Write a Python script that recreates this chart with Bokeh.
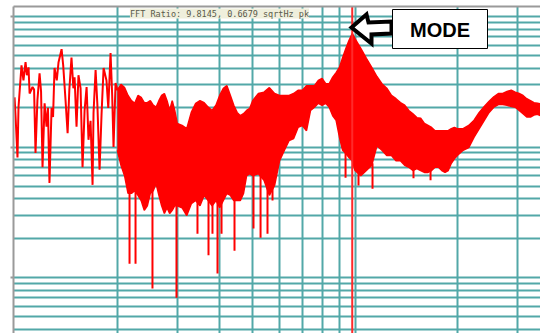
import numpy as np
from bokeh.plotting import figure
from bokeh.models import FixedTicker, Label, Range1d, BoxAnnotation
from bokeh.embed import file_html
from bokeh.resources import INLINE

# ---------------- data (frequency in Hz, level in dB re 1 sqrtHz pk) ----------------
low_freq = [0.997, 1.004, 1.017, 1.024, 1.045, 1.059, 1.074, 1.084, 1.096, 1.104,
            1.126, 1.138, 1.149, 1.164, 1.181, 1.193, 1.205, 1.222, 1.238, 1.250,
            1.263, 1.281, 1.294, 1.307, 1.327, 1.343, 1.371, 1.386, 1.408, 1.428,
            1.445, 1.466, 1.485, 1.497, 1.517, 1.537, 1.559, 1.580, 1.602, 1.624,
            1.645, 1.668, 1.691, 1.702, 1.726, 1.747, 1.773, 1.797, 1.822, 1.858,
            1.881, 1.910, 1.931, 1.949, 1.976]
low_db = [-12.4, -15.4, -21.6, -13.9, -7.5, -9.8, -7.0, -9.0, -7.8, -11.8,
          -10.8, -11.2, -20.9, -12.8, -8.7, -11.5, -23.1, -13.3, -16.9, -14.0,
          -25.5, -14.0, -15.4, -7.9, -9.8, -7.0, -5.0, -7.5, -12.8, -17.9,
          -11.2, -6.3, -11.0, -9.3, -16.9, -9.0, -11.0, -23.1, -14.4, -10.8,
          -18.9, -16.0, -25.8, -14.8, -8.2, -13.5, -23.5, -15.0, -7.9, -9.8,
          -14.0, -5.6, -12.0, -20.0, -10.2]

band_freq = [2.00, 2.05, 2.10, 2.15, 2.20, 2.25, 2.30, 2.35, 2.40, 2.45, 2.50,
             2.55, 2.60, 2.65, 2.70, 2.75, 2.80, 2.85, 2.90, 2.95, 3.00,
             3.1, 3.2, 3.3, 3.4, 3.5, 3.6, 3.7, 3.8, 3.9, 4.0,
             4.1, 4.2, 4.3, 4.4, 4.5, 4.6, 4.7, 4.8, 4.9, 5.0,
             5.2, 5.4, 5.6, 5.8, 6.0, 6.2, 6.4, 6.6, 6.8, 7.0,
             7.2, 7.4, 7.6, 7.8, 8.0, 8.2, 8.4, 8.6, 8.8, 9.0,
             9.2, 9.4, 9.6, 9.8145, 10.0,
             10.4, 10.8, 11.2, 11.6, 12.0, 12.4, 12.8, 13.2, 13.6, 14.0,
             14.4, 14.8, 15.2, 15.6, 16.0, 16.4, 16.8, 17.2, 17.6, 18.0,
             18.4, 18.8, 19.2, 19.6, 20.0,
             20.8, 21.6, 22.4, 23.2, 24.0, 24.8, 25.6, 26.4, 27.2, 28.0,
             28.8, 29.6, 30.4, 31.2, 32.0, 32.8, 33.6, 34.4, 35.2]
band_top_db = [-11.3, -10.4, -10.9, -12.1, -12.9, -13.3, -12.1, -12.4, -13.2, -13.2, -12.9,
               -13.6, -13.9, -12.9, -12.1, -11.8, -12.9, -14.4, -12.9, -14.4, -16.4,
               -16.7, -17.2, -14.7, -13.3, -12.9, -13.2, -13.9, -14.4, -13.6, -12.1,
               -11.0, -10.6, -12.1, -13.6, -14.7, -15.2, -14.9, -14.4, -14.1, -12.9,
               -11.8, -11.6, -10.9, -11.8, -12.1, -12.1, -12.1, -11.8, -11.3, -11.3,
               -10.6, -10.6, -10.6, -9.8, -9.5, -10.3, -10.3, -9.3, -8.6, -7.8,
               -6.3, -4.9, -3.7, -2.6, -3.4,
               -4.9, -6.4, -7.8, -9.2, -10.3, -11.0, -12.1, -12.6, -13.2, -13.6,
               -14.4, -14.9, -15.5, -15.6, -16.4, -16.7, -17.0, -17.5, -17.5, -17.5,
               -17.5, -17.5, -17.2, -17.0, -17.2,
               -17.2, -16.7, -15.9, -14.7, -13.8, -13.0, -12.3, -11.8, -11.8, -11.5,
               -11.3, -11.6, -11.8, -12.1, -12.6, -12.9, -13.2, -13.3, -13.4]
band_bot_db = [-20.5, -22.8, -24.4, -27.1, -27.1, -26.7, -27.4, -28.2, -29.7, -29.0, -27.1,
               -26.7, -25.6, -27.4, -29.0, -30.2, -29.3, -30.2, -29.7, -29.0, -29.0,
               -29.3, -30.5, -28.7, -28.2, -29.0, -27.4, -28.2, -29.0, -28.2, -29.3,
               -28.2, -27.1, -27.4, -28.2, -28.2, -28.2, -27.1, -24.4, -24.1, -24.4,
               -24.1, -25.1, -27.4, -25.9, -22.1, -20.5, -19.0, -18.7, -17.0, -16.7,
               -17.5, -14.4, -13.9, -13.3, -13.6, -13.3, -13.9, -15.2, -15.9, -18.5,
               -20.5, -21.0, -21.6, -22.1, -23.6,
               -24.4, -23.6, -22.8, -19.8, -20.5, -21.3, -21.3, -22.1, -22.1, -22.8,
               -23.1, -23.6, -23.3, -23.6, -23.9, -23.9, -23.6, -23.1, -23.1, -23.6,
               -23.9, -23.6, -22.5, -21.8, -21.3,
               -20.5, -20.1, -18.5, -17.2, -15.9, -14.7, -13.9, -13.5, -13.5, -13.6,
               -13.8, -13.9, -14.4, -14.9, -15.4, -15.4, -15.1, -15.0, -15.2]

spike_freq = [2.172, 2.262, 2.537, 2.985, 3.441, 3.708, 3.809, 3.941, 4.050, 4.422,
              5.029, 5.275, 5.529, 5.720, 9.38, 10.24, 11.26, 14.86, 16.68]
spike_from_db = [-27.0, -26.7, -26.7, -29.0, -28.0, -28.0, -28.5, -28.5, -28.0, -28.0,
                 -24.0, -24.0, -25.0, -25.0, -20.5, -23.0, -22.5, -23.5, -23.6]
spike_to_db = [-37.9, -37.9, -41.7, -43.1, -33.3, -36.6, -33.3, -39.4, -33.3, -35.9,
               -32.5, -33.9, -33.3, -28.2, -24.7, -25.9, -26.4, -24.8, -25.1]

mode_freq = 9.8145
mode_amp = 0.6679
title_text = "FFT Ratio: 9.8145, 0.6679 sqrtHz pk"
annot_text = "MODE"

x_major = [10]
x_minor = [2, 3, 4, 5, 6, 7, 8, 9, 20, 30]
y_major = [0.01, 0.1, 1]
y_minor = [0.004, 0.005, 0.006, 0.007, 0.008, 0.009,
           0.02, 0.03, 0.04, 0.05, 0.06, 0.07, 0.08, 0.09,
           0.2, 0.3, 0.4, 0.5, 0.6, 0.7, 0.8, 0.9]

# ---------------- layout helpers (canvas pixels -> data) ----------------
def fx(px):
    return 10 ** ((px - 14.5) / 340.0)

def fy(py):
    return 10 ** (-(py - 16.0) / 130.5)

def db2amp(d):
    return 10 ** (np.asarray(d, dtype=float) / 20.0)

X0, X1 = fx(13), fx(540)
Y0, Y1 = fy(333), fy(6)

RED = "#ff0000"
TEAL = "#52a8a8"

p = figure(width=540, height=333, x_axis_type="log", y_axis_type="log",
           x_range=Range1d(X0, X1), y_range=Range1d(Y0, Y1),
           x_axis_location="above", output_backend="svg", toolbar_location=None,
           min_border_left=13, min_border_top=6, min_border_right=0, min_border_bottom=0)
p.outline_line_color = None
p.background_fill_color = "white"
p.border_fill_color = "white"

xt = FixedTicker(ticks=x_major, minor_ticks=x_minor)
yt = FixedTicker(ticks=y_major, minor_ticks=y_minor)
for ax, t, tout in ((p.xaxis[0], xt, 0), (p.yaxis[0], yt, 3)):
    ax.ticker = t
    ax.major_label_text_font_size = "1px"
    ax.major_label_text_alpha = 0.0
    ax.major_label_standoff = 0
    ax.major_tick_out = tout
    ax.major_tick_in = 0
    ax.minor_tick_out = 0
    ax.minor_tick_in = 0
    ax.axis_line_color = "#9a9a9a"
    ax.axis_line_width = 2
    ax.major_tick_line_color = "#9a9a9a"
    ax.major_tick_line_width = 2

for g in (p.xgrid[0], p.ygrid[0]):
    g.grid_line_color = TEAL
    g.grid_line_width = 2
    g.minor_grid_line_color = TEAL
    g.minor_grid_line_width = 2

# spectrum
p.varea(x=band_freq, y1=db2amp(band_bot_db), y2=db2amp(band_top_db), fill_color=RED)
p.line(band_freq, db2amp(band_top_db), line_color=RED, line_width=1.5)
p.line(band_freq, db2amp(band_bot_db), line_color=RED, line_width=1.5)
p.line(low_freq + band_freq[:1], list(db2amp(low_db)) + [db2amp(band_top_db[0])],
       line_color=RED, line_width=2)
p.segment(x0=spike_freq, y0=db2amp(spike_from_db), x1=spike_freq, y1=db2amp(spike_to_db),
          line_color=RED, line_width=2)

# mode marker line
p.segment(x0=[mode_freq], y0=[Y0], x1=[mode_freq], y1=[Y1], line_color="#ff2a2a", line_width=2)

# arrow (hollow, pointing left)
arrow_px = [351, 366, 368, 391, 391, 371, 371]
arrow_py = [27, 14, 22, 21, 33, 34, 43]
p.patch([fx(v) for v in arrow_px], [fy(v) for v in arrow_py],
        fill_color="white", line_color="black", line_width=4, line_join="miter")

box = BoxAnnotation(left=fx(392), right=fx(487), top=fy(9), bottom=fy(48),
                    fill_color="white", fill_alpha=1.0, line_color="black",
                    line_alpha=1.0, line_width=1)
p.add_layout(box)
p.add_layout(Label(x=fx(439.5), y=fy(29), text=annot_text, text_align="center",
                   text_baseline="middle", text_font="Liberation Sans",
                   text_font_style="bold", text_font_size="20px", text_color="black"))
p.add_layout(Label(x=fx(219), y=fy(13), text=title_text, text_align="center",
                   text_baseline="middle", text_font="DejaVu Sans Mono",
                   text_font_size="8.5px", text_color="#5a5a4a",
                   background_fill_color="#efefdc", background_fill_alpha=1.0))

open("out.html", "w").write(file_html(p, INLINE))
